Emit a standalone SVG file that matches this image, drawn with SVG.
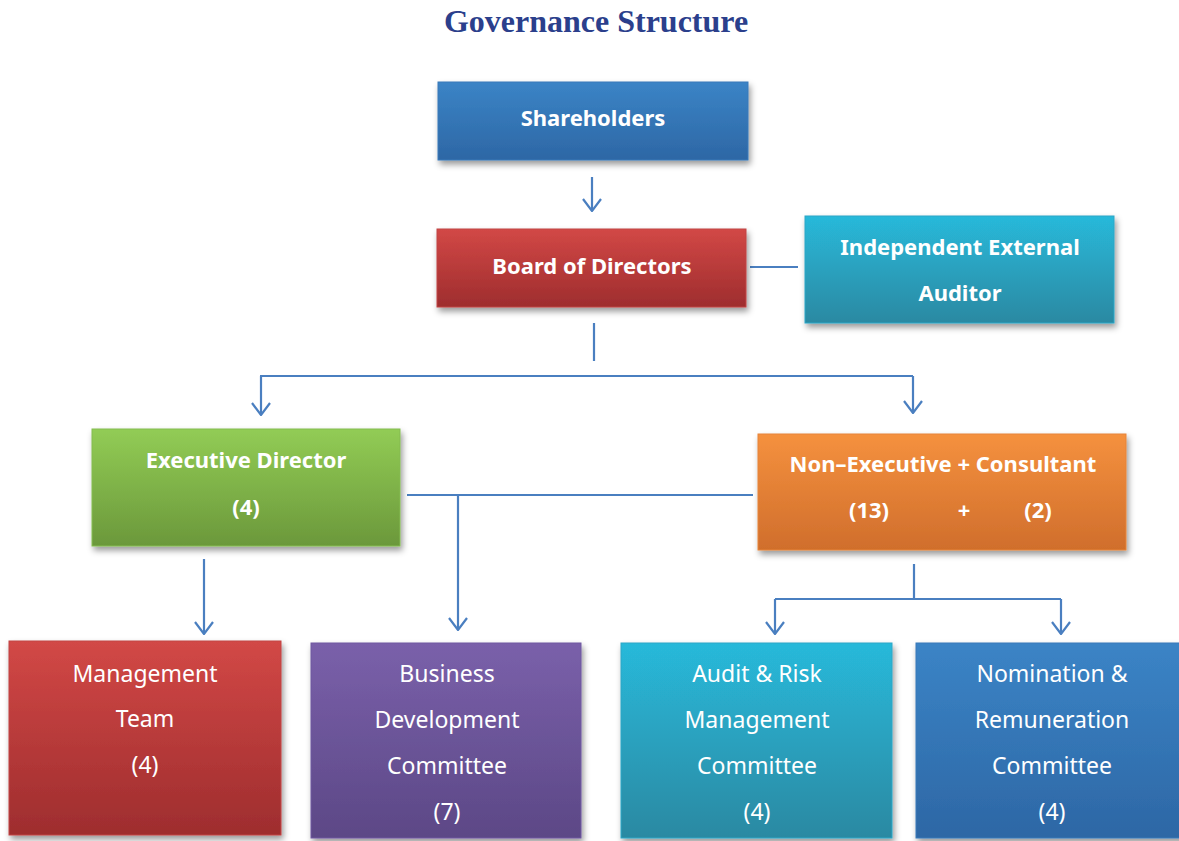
<svg xmlns="http://www.w3.org/2000/svg" width="1179" height="841" viewBox="0 0 1179 841">
<defs>
<linearGradient id="gBlue" x1="0" y1="0" x2="0" y2="1"><stop offset="0" stop-color="#3b84c6"/><stop offset="1" stop-color="#2d67a5"/></linearGradient>
<linearGradient id="gRed" x1="0" y1="0" x2="0" y2="1"><stop offset="0" stop-color="#d24846"/><stop offset="1" stop-color="#9e2d2e"/></linearGradient>
<linearGradient id="gTeal" x1="0" y1="0" x2="0" y2="1"><stop offset="0" stop-color="#28b9da"/><stop offset="1" stop-color="#2b89a2"/></linearGradient>
<linearGradient id="gGreen" x1="0" y1="0" x2="0" y2="1"><stop offset="0" stop-color="#92cc55"/><stop offset="1" stop-color="#6b983b"/></linearGradient>
<linearGradient id="gOrange" x1="0" y1="0" x2="0" y2="1"><stop offset="0" stop-color="#f5913e"/><stop offset="1" stop-color="#d06e2c"/></linearGradient>
<linearGradient id="gPurple" x1="0" y1="0" x2="0" y2="1"><stop offset="0" stop-color="#7a60aa"/><stop offset="1" stop-color="#5c4886"/></linearGradient>
<filter id="sh" x="-10%" y="-10%" width="125%" height="130%"><feDropShadow dx="2" dy="4" stdDeviation="3" flood-color="#000" flood-opacity="0.4"/></filter>
<marker id="arr" viewBox="0 0 14 20" refX="13" refY="10" markerWidth="14" markerHeight="20" markerUnits="userSpaceOnUse" orient="auto">
<path d="M1 1 L13 10 L1 19" fill="none" stroke="#4a7fc0" stroke-width="2.2"/>
</marker>
<style>
.box{filter:url(#sh);stroke-width:1}
.tb{font-family:"Noto Sans","Open Sans",sans-serif;font-weight:bold;font-size:22px;fill:#fff;text-anchor:middle}
.tr{font-family:"Noto Sans","Open Sans",sans-serif;font-size:23px;fill:#fff;text-anchor:middle}
.ln{stroke:#4a7fc0;stroke-width:2.2;fill:none}
</style>
</defs>
<rect width="1179" height="841" fill="#fff"/>
<text x="596" y="32" font-family="'Liberation Serif',serif" font-weight="bold" font-size="32" fill="#2b3f8c" text-anchor="middle">Governance Structure</text>

<g id="connectors">
<path class="ln" d="M592 177 V211" marker-end="url(#arr)"/>
<path class="ln" d="M750 267 H798"/>
<path class="ln" d="M594 323 V361"/>
<path class="ln" d="M260 376 H913"/>
<path class="ln" d="M261 376 V415" marker-end="url(#arr)"/>
<path class="ln" d="M913 376 V413" marker-end="url(#arr)"/>
<path class="ln" d="M407 495 H753"/>
<path class="ln" d="M458 495 V630" marker-end="url(#arr)"/>
<path class="ln" d="M204 559 V634" marker-end="url(#arr)"/>
<path class="ln" d="M914 564 V600"/>
<path class="ln" d="M775 599 H1061"/>
<path class="ln" d="M775 599 V634" marker-end="url(#arr)"/>
<path class="ln" d="M1061 599 V634" marker-end="url(#arr)"/>
</g>

<g id="shareholders">
<rect class="box" x="438" y="82" width="310" height="78" fill="url(#gBlue)" stroke="#3a78b8"/>
<text class="tb" x="593" y="126">Shareholders</text>
</g>
<g id="board">
<rect class="box" x="437" y="229" width="309" height="78" fill="url(#gRed)" stroke="#c04444"/>
<text class="tb" x="592" y="274">Board of Directors</text>
</g>
<g id="auditor">
<rect class="box" x="805" y="216" width="309" height="107" fill="url(#gTeal)" stroke="#2aa6c6"/>
<text class="tb" x="960" y="255">Independent External</text>
<text class="tb" x="960" y="301">Auditor</text>
</g>
<g id="executive">
<rect class="box" x="92" y="429" width="308" height="117" fill="url(#gGreen)" stroke="#84bb50"/>
<text class="tb" x="246" y="468">Executive Director</text>
<text class="tb" x="246" y="515">(4)</text>
</g>
<g id="nonexecutive">
<rect class="box" x="758" y="434" width="368" height="116" fill="url(#gOrange)" stroke="#e6843a"/>
<text class="tb" x="943" y="472">Non–Executive + Consultant</text>
<text class="tb" x="869" y="518">(13)</text>
<text class="tb" x="964" y="518">+</text>
<text class="tb" x="1038" y="518">(2)</text>
</g>
<g id="management">
<rect class="box" x="9" y="641" width="272" height="194" fill="url(#gRed)" stroke="#c04444"/>
<text class="tr" x="145" y="682">Management</text>
<text class="tr" x="145" y="727">Team</text>
<text class="tr" x="145" y="773">(4)</text>
</g>
<g id="business">
<rect class="box" x="311" y="643" width="270" height="195" fill="url(#gPurple)" stroke="#6f58a0"/>
<text class="tr" x="447" y="682">Business</text>
<text class="tr" x="447" y="728">Development</text>
<text class="tr" x="447" y="774">Committee</text>
<text class="tr" x="447" y="820">(7)</text>
</g>
<g id="auditrisk">
<rect class="box" x="621" y="643" width="271" height="195" fill="url(#gTeal)" stroke="#2aa6c6"/>
<text class="tr" x="757" y="682">Audit &amp; Risk</text>
<text class="tr" x="757" y="728">Management</text>
<text class="tr" x="757" y="774">Committee</text>
<text class="tr" x="757" y="820">(4)</text>
</g>
<g id="nomination">
<rect class="box" x="916" y="643" width="268" height="195" fill="url(#gBlue)" stroke="#3a78b8"/>
<text class="tr" x="1052" y="682">Nomination &amp;</text>
<text class="tr" x="1052" y="728">Remuneration</text>
<text class="tr" x="1052" y="774">Committee</text>
<text class="tr" x="1052" y="820">(4)</text>
</g>
</svg>
